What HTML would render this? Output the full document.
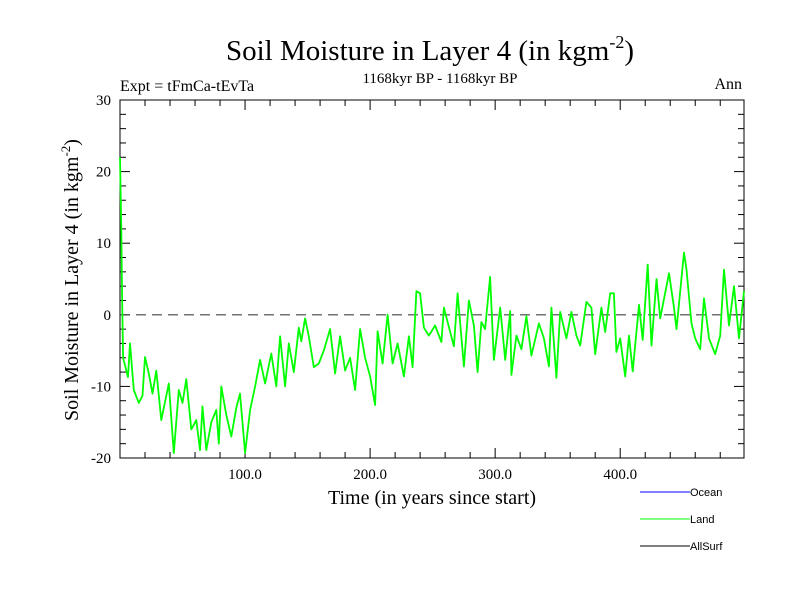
<!DOCTYPE html>
<html><head><meta charset="utf-8"><style>
body{margin:0;background:#fff}
svg{display:block;font-family:"Liberation Serif",serif}
</style></head><body>
<svg id="c" width="800" height="600" xmlns="http://www.w3.org/2000/svg">
<text x="430" y="60" font-size="29" text-anchor="middle">Soil Moisture in Layer 4 (in kgm<tspan dy="-12" font-size="18">-2</tspan><tspan dy="12">)</tspan></text>
<text x="120" y="91" font-size="16">Expt = tFmCa-tEvTa</text>
<text x="440" y="83" font-size="15" text-anchor="middle">1168kyr BP - 1168kyr BP</text>
<text x="742" y="89" font-size="16" text-anchor="end">Ann</text>
<text transform="translate(78,280) rotate(-90)" font-size="20" text-anchor="middle">Soil Moisture in Layer 4 (in kgm<tspan dy="-8" font-size="13">-2</tspan><tspan dy="8">)</tspan></text>
<text x="432" y="504" font-size="20" text-anchor="middle">Time (in years since start)</text>
<g id="axes"></g>
<g id="series"></g>
<g font-family="Liberation Sans, sans-serif" font-size="11">
<line x1="640" y1="492" x2="690" y2="492" stroke="#0000ff"/>
<text x="690" y="496">Ocean</text>
<line x1="640" y1="519" x2="690" y2="519" stroke="#00ff00"/>
<text x="690" y="523">Land</text>
<line x1="640" y1="546" x2="690" y2="546" stroke="#000"/>
<text x="690" y="550">AllSurf</text>
</g>
</svg>
<script>
const years=[0,1,1.6,2.5,6.4,8,11,15,18,20,23,26,29,33,39,43,47,50,53,57,61,64,66,69,73,77,79,81,85,89,93,96,100,104,108,112,116,121,125,128,132,135,139,143,145,148,151,155,159,163,168,172,176,180,184,188,192,196,200,204,206,210,214,218,222,227,231,234,237,240,243,247,252,257,259,267,270,275,279,283,286,289,292,296,299,304,308,312,313,317,321,325,329,335,339,343,345,349,352,357,361,365,368,373,377,380,385,388,392,395,397,400,404,407,410,415,418,422,425,429,432,439,443,445,451,453,457,460,464,467,471,476,480,483,487,491,495,499];
const landValues=[22,12,3.5,-6,-8.7,-4,-10.5,-12.3,-11.3,-5.9,-8.2,-11,-7.8,-14.7,-9.6,-19.3,-10.5,-12.3,-9,-16,-14.7,-18.9,-12.8,-18.9,-15,-13.3,-18,-10,-14,-17,-13,-11,-19.3,-13.3,-10,-6.3,-9.6,-5.4,-10,-3,-10,-4,-8,-1.8,-3.7,-0.5,-3,-7.3,-6.8,-5,-2,-8.2,-3,-7.8,-6,-10.5,-2,-6,-8.6,-12.6,-2.3,-6.8,0,-6.8,-4,-8.6,-3,-7.3,3.3,3,-1.8,-2.9,-1.5,-3.8,1,-4.4,3,-7.2,2,-1.5,-8,-1,-2,5.3,-6.3,1,-6.3,0.5,-8.4,-2.9,-4.8,-0.2,-5.7,-1.2,-3.3,-7.2,1,-8.8,0.4,-3.3,0.4,-2.9,-4.3,1.8,1,-5.5,1,-2.4,3,3,-5.2,-3.3,-8.6,-2.9,-7.9,1.4,-3.5,7,-4.3,5,-0.5,5.8,1,-2,8.7,6.3,-1.2,-3.3,-4.8,2.3,-3.3,-5.5,-2.9,6.3,-1.5,4,-3.3,3.3];
const yTicks=[-20,-10,0,10,20,30];
const xTickLabels=["100.0","200.0","300.0","400.0"];
const xTickValues=[100,200,300,400];
const X0=120,X1=744,Y0=100,Y1=458,XMAX=499,YMIN=-20,YMAX=30;
const sx=v=>X0+(v/XMAX)*(X1-X0);
const sy=v=>Y1-(v-YMIN)/(YMAX-YMIN)*(Y1-Y0);
const NS="http://www.w3.org/2000/svg";
const ax=document.getElementById('axes');
function mk(t,a,p){const e=document.createElementNS(NS,t);for(const k in a)e.setAttribute(k,a[k]);(p||ax).appendChild(e);return e;}
const frame=mk('rect',{x:X0,y:Y0,width:X1-X0,height:Y1-Y0,fill:'none',stroke:'#000','stroke-width':1});


for(let v=YMIN;v<=YMAX;v+=2){const L=(v%10===0)?10:6;
 mk('line',{x1:X0,y1:sy(v),x2:X0+L,y2:sy(v),stroke:'#000'});
 mk('line',{x1:X1,y1:sy(v),x2:X1-L,y2:sy(v),stroke:'#000'});}
for(let v=20;v<XMAX;v+=20){const L=(v%100===0)?10:6;
 mk('line',{x1:sx(v),y1:Y1,x2:sx(v),y2:Y1-L,stroke:'#000'});
 mk('line',{x1:sx(v),y1:Y0,x2:sx(v),y2:Y0+L,stroke:'#000'});}
yTicks.forEach(v=>{const t=mk('text',{x:111,y:sy(v)+5,'font-size':15,'text-anchor':'end'});t.textContent=v;
 
 });
xTickValues.forEach((v,i)=>{const t=mk('text',{x:sx(v),y:479,'font-size':15,'text-anchor':'middle'});t.textContent=xTickLabels[i];
 
 });
const zl=mk('line',{x1:X0,y1:sy(0),x2:X1,y2:sy(0),stroke:'#444','stroke-dasharray':'10,6','stroke-width':1.2});


const s=document.getElementById('series');
const path=mk('polyline',{points:years.map((y,i)=>sx(y).toFixed(1)+','+sy(landValues[i]).toFixed(1)).join(' '),fill:'none',stroke:'#00ff00','stroke-width':1.8,'stroke-linejoin':'round'},s);


</script>
</body></html>
